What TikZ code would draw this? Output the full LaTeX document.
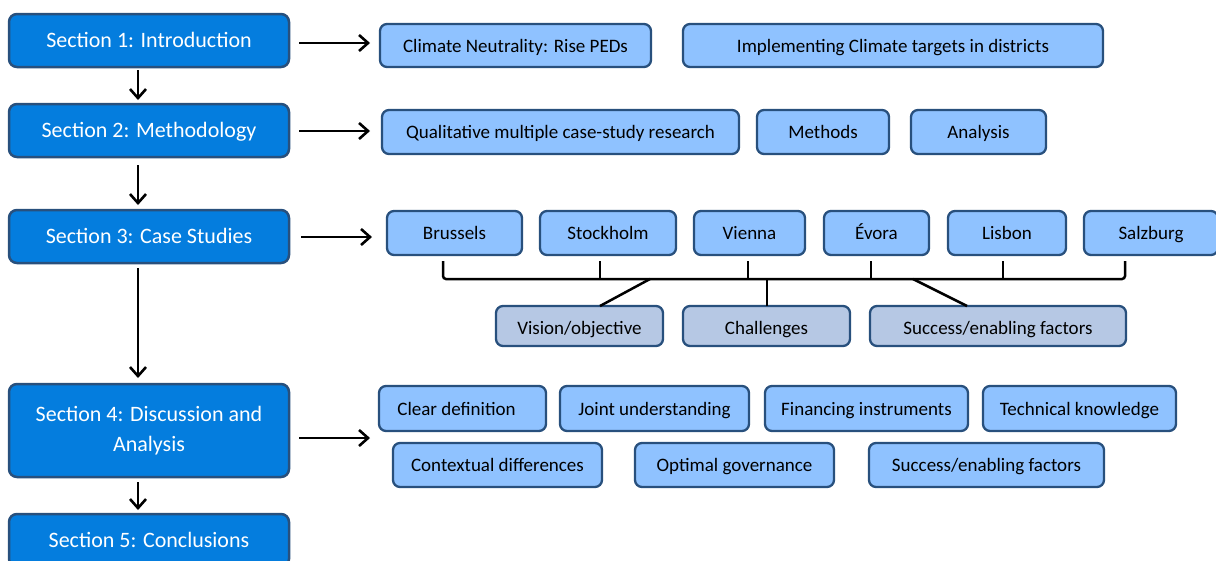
\documentclass[tikz,border=0pt]{standalone}
\usepackage{fontspec}
\setmainfont{Carlito}
\usetikzlibrary{arrows.meta}
\definecolor{secfill}{RGB}{4,125,222}
\definecolor{bordc}{RGB}{40,80,125}
\definecolor{lightfill}{RGB}{143,194,255}
\definecolor{greyfill}{RGB}{182,200,228}
\tikzset{
  x=1pt, y=-1pt,
  secbox/.style={draw=bordc, fill=secfill, line width=2.5pt, rounded corners=8pt, anchor=north west,
    inner sep=0pt, outer sep=0pt, text=white, align=center, font=\fontsize{22}{30.5}\selectfont},
  sec1/.style={secbox, text height=17pt, text depth=2.5pt},
  lbox/.style={draw=bordc, fill=lightfill, line width=2.3pt, rounded corners=7pt, anchor=north west,
    inner sep=0pt, outer sep=0pt, text=black, font=\fontsize{19}{22}\selectfont,
    text height=16pt, text depth=3pt},
  gbox/.style={lbox, fill=greyfill, text height=18pt, text depth=2pt},
  arr/.style={line width=2.6pt, -{Straight Barb[length=9pt,width=16pt,line width=2.6pt]}},
  brk/.style={line width=2.5pt, line cap=butt},
}
\newcommand{\bx}[7]{\node[#1, minimum width={#4-#2}, minimum height={#5-#3}] (#6) at (#2,#3) {#7};}
\begin{document}
\begin{tikzpicture}
\clip (0,0) rectangle (1216,560);
\fill[white] (0,0) rectangle (1216,560);
% sections
\bx{sec1}{9}{14}{289}{67}{s1}{Section 1: Introduction}
\bx{sec1}{9}{104}{289}{157}{s2}{Section 2: Methodology}
\bx{sec1}{9}{210}{289}{263}{s3}{Section 3: Case Studies}
\bx{secbox}{9}{384}{289}{477}{s4}{Section 4: Discussion and\\Analysis}
\bx{sec1}{9}{514}{289}{567}{s5}{Section 5: Conclusions}
% row 1
\bx{lbox}{380}{24}{651}{67}{c1}{Climate Neutrality: Rise PEDs}
\bx{lbox}{683}{24}{1103}{67}{c2}{Implementing Climate targets in districts}
% row 2
\bx{lbox}{382}{110}{739}{154}{m1}{Qualitative multiple case-study research}
\bx{lbox}{757}{110}{889}{154}{m2}{Methods}
\bx{lbox}{911}{110}{1046}{154}{m3}{Analysis}
% row 3 cities
\bx{lbox}{387}{211}{522}{255}{bru}{Brussels}
\bx{lbox}{540}{211}{676}{255}{sto}{Stockholm}
\bx{lbox}{694}{211}{805}{255}{vie}{Vienna}
\bx{lbox}{824}{211}{929}{255}{evo}{Évora}
\bx{lbox}{948}{211}{1066}{255}{lis}{Lisbon}
\bx{lbox}{1084}{211}{1218}{255}{sal}{Salzburg}
% row 3 grey
\bx{gbox}{496}{306}{663}{346}{vis}{Vision/objective}
\bx{gbox}{683}{306}{850}{346}{cha}{Challenges}
\bx{gbox}{870}{306}{1126}{346}{suc}{Success/enabling factors}
% row 4
\bx{lbox}{379}{386}{546}{431}{d1}{\hspace{-12pt}Clear definition}
\bx{lbox}{560}{386}{749}{431}{d2}{Joint understanding}
\bx{lbox}{765}{386}{968}{431}{d3}{Financing instruments}
\bx{lbox}{983}{386}{1176}{431}{d4}{Technical knowledge}
\bx{lbox}{393}{443}{602}{487}{d5}{Contextual differences}
\bx{lbox}{635}{443}{834}{487}{d6}{Optimal governance}
\bx{lbox}{869}{443}{1104}{487}{d7}{Success/enabling factors}
% vertical arrows
\draw[arr] ([yshift=-3pt]s1.south -| 138,0) -- ([yshift=4pt]s2.north -| 138,0);
\draw[arr] ([yshift=-8pt]s2.south -| 138,0) -- ([yshift=5pt]s3.north -| 138,0);
\draw[arr] ([yshift=-5pt]s3.south -| 138,0) -- ([yshift=6pt]s4.north -| 138,0);
\draw[arr] ([yshift=-5pt]s4.south -| 138,0) -- ([yshift=4pt]s5.north -| 138,0);
% horizontal arrows
\draw[arr] (299,43) -- ([xshift=-10pt]c1.west |- 0,43);
\draw[arr] (299,131) -- ([xshift=-12pt]m1.west |- 0,131);
\draw[arr] (301,237) -- ([xshift=-15pt]bru.west |- 0,237);
\draw[arr] (299,438) -- ([xshift=-9pt]d1.west |- 0,438);
% bracket
\coordinate (bL) at (443,279);
\coordinate (bR) at (1125,279);
\draw[brk, rounded corners=3pt] (443,261) -- (bL) -- (bR) -- (1125,261);
\draw[brk] (600,261) -- (600,279);
\draw[brk] (748,261) -- (748,279);
\draw[brk] (871,261) -- (871,279);
\draw[brk] (1003,261) -- (1003,279);
\draw[brk] (650,279) -- ([xshift=-63pt]vis.north east);
\draw[brk] (767,279) -- (cha.north -| 767,0);
\draw[brk] (913,279) -- (967,306);
\end{tikzpicture}
\end{document}
